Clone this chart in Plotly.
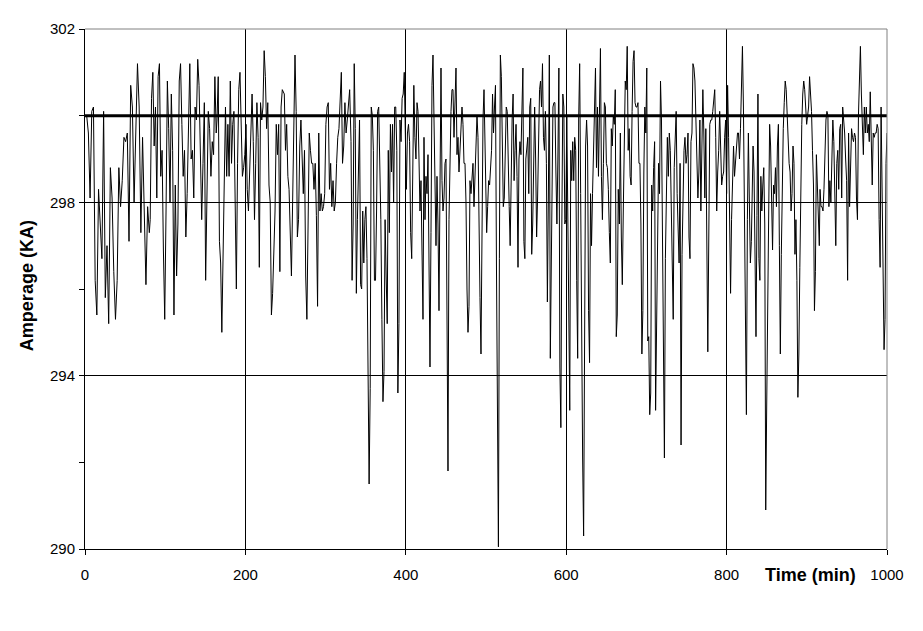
import numpy as np
import plotly.graph_objects as go

# Amperage readings (KA), grouped by consecutive time spans
seg_minutes = [
    (0.0, 80.2), (81.3, 163.6), (164.6, 246.0), (248.5, 330.0),
    (331.7, 414.0), (415.2, 497.5), (499.6, 580.2), (581.0, 664.9),
    (666.3, 748.1), (749.4, 832.1), (833.0, 915.6), (916.5, 1000.0),
]

seg01 = [300.0, 300.0, 299.6, 298.1, 300.1, 300.2, 296.2, 295.4, 298.3, 297.5, 296.7, 300.1, 295.8,
         297.0, 295.2, 298.8, 298.1, 296.4, 295.3, 296.2, 298.8, 297.9, 298.5, 299.5, 299.4, 299.6,
         297.1, 300.7, 300.2, 298.0, 300.0, 301.2, 300.2, 297.3, 299.5, 298.1, 296.1, 297.9, 297.3]
seg02 = [297.6, 300.4, 301.0, 299.3, 300.2, 298.1, 300.9, 301.2, 298.6, 299.2, 296.9, 295.3, 297.8,
         300.8, 299.7, 298.0, 300.5, 299.2, 295.4, 298.4, 296.3, 297.5, 300.8, 301.2, 299.8, 298.6,
         299.2, 297.2, 298.2, 300.2, 301.2, 299.0, 299.2, 298.1, 300.2, 299.9, 301.3, 300.7, 298.8,
         297.6, 298.9, 300.3, 296.2, 298.2, 300.1, 299.7, 298.6, 299.4, 299.1, 300.9, 299.6]
seg03 = [299.9, 300.9, 297.1, 296.6, 295.0, 296.6, 298.1, 300.2, 298.6, 299.8, 298.6, 300.8, 298.9,
         299.8, 300.1, 297.2, 296.0, 298.9, 300.6, 301.0, 299.4, 298.6, 298.8, 299.1, 299.8, 298.3,
         297.8, 298.9, 299.8, 300.5, 299.4, 297.6, 298.9, 300.3, 299.5, 296.5, 300.3, 299.9, 300.2,
         301.5, 300.9, 299.7, 300.3, 298.4, 298.0, 295.4, 295.9, 296.9, 297.8, 299.8, 299.1, 299.8,
         296.4, 300.2, 300.6]
seg04 = [300.5, 299.2, 299.8, 298.6, 298.3, 297.1, 296.3, 298.0, 300.1, 301.4, 300.1, 297.2, 297.6,
         299.3, 299.9, 299.2, 298.2, 299.2, 296.3, 295.3, 297.5, 299.6, 299.2, 298.9, 298.9, 298.3,
         298.9, 297.7, 295.6, 299.6, 297.8, 298.2, 297.8, 297.9, 298.2, 299.8, 300.2, 300.3, 298.3,
         298.9, 297.9, 298.5, 297.8, 298.0, 298.9, 299.5, 299.7, 300.5, 301.0, 298.9, 299.3, 300.3,
         299.6, 299.9, 300.2, 300.6]
seg05 = [299.4, 296.2, 297.5, 301.2, 299.7, 295.9, 297.6, 299.0, 299.9, 296.1, 296.0, 297.8, 296.6,
         297.6, 297.9, 296.7, 293.6, 291.5, 293.7, 300.2, 300.0, 299.2, 296.2, 296.2, 297.8, 300.1,
         300.2, 298.9, 297.6, 295.3, 293.4, 294.1, 297.6, 296.3, 295.2, 299.2, 297.3, 299.8, 298.7,
         299.8, 298.0, 300.2, 300.2, 299.2, 293.6, 295.2, 299.9, 299.4, 300.4, 300.5, 301.0, 299.6,
         298.3, 299.6, 299.8, 299.4, 297.3, 296.7, 299.1, 300.7, 299.5, 299.0, 300.3]
seg06 = [300.1, 299.0, 297.8, 298.5, 296.7, 295.3, 299.5, 297.6, 298.6, 298.2, 299.1, 295.5, 294.2,
         297.3, 300.7, 301.4, 300.0, 298.2, 297.0, 298.6, 297.5, 295.5, 299.6, 301.1, 298.5, 297.8,
         298.1, 298.9, 299.0, 295.7, 291.8, 297.6, 299.2, 300.1, 300.6, 300.6, 299.5, 300.3, 301.1,
         299.1, 299.5, 298.7, 299.2, 300.0, 300.2, 299.8, 298.9, 298.9, 298.0, 296.0, 295.0, 295.6,
         298.5, 298.2, 298.6, 298.9, 297.9, 298.7, 299.5, 300.0, 299.5, 297.2, 295.8, 294.5, 297.5,
         299.9, 300.6]
seg07 = [297.8, 297.3, 297.9, 298.5, 298.4, 298.9, 299.2, 300.5, 299.6, 300.2, 300.7, 296.6, 292.9,
         290.05, 296.7, 301.4, 300.9, 298.6, 297.9, 298.1, 299.4, 300.2, 300.1, 298.6, 297.9, 297.0,
         298.9, 299.9, 300.5, 298.5, 299.2, 299.8, 298.6, 296.5, 299.0, 299.4, 299.1, 300.5, 301.1,
         297.1, 296.7, 299.0, 299.2, 299.5, 298.2, 300.2, 300.4, 296.8, 297.5, 299.0, 300.2, 299.0,
         297.2, 298.1, 299.9, 300.6, 300.8, 300.2, 301.2, 299.5, 299.2, 300.1, 298.9, 295.7, 298.1,
         301.4, 294.4]
seg08 = [295.7, 298.6, 300.2, 300.3, 300.3, 298.7, 297.5, 299.0, 301.1, 294.2, 292.8, 297.5, 300.5,
         300.2, 297.5, 297.6, 300.0, 297.8, 295.8, 293.2, 299.2, 298.5, 299.4, 298.5, 299.5, 299.2,
         296.2, 294.4, 299.9, 301.2, 298.2, 294.1, 292.1, 290.3, 295.5, 299.3, 299.9, 299.3, 295.5,
         294.3, 298.2, 297.0, 298.2, 299.3, 300.6, 301.1, 298.8, 300.2, 298.6, 300.5, 301.55, 298.6,
         297.6, 298.9, 300.3, 300.2, 298.9, 298.8, 298.3, 297.3, 296.6, 299.7, 299.3, 300.0, 299.8,
         300.6, 294.9, 295.4, 298.3]
seg09 = [297.5, 299.6, 297.2, 296.1, 297.8, 298.9, 300.8, 300.6, 301.6, 299.2, 299.7, 298.6, 298.4,
         300.1, 301.25, 301.5, 300.3, 300.2, 300.2, 300.3, 298.9, 298.9, 297.5, 294.5, 295.5, 298.7,
         300.2, 299.6, 301.1, 294.8, 294.9, 293.1, 293.6, 298.4, 297.8, 298.8, 299.4, 293.2, 294.9,
         297.7, 298.9, 298.2, 300.8, 299.9, 296.6, 294.4, 292.1, 296.7, 298.8, 299.5, 298.6, 299.6,
         299.2, 298.1, 296.9, 295.3, 298.8, 299.4, 300.1, 298.2, 297.3, 296.6, 298.9, 292.4, 296.8,
         298.2, 299.2, 299.5]
seg10 = [298.9, 299.1, 299.6, 297.2, 296.7, 299.4, 299.6, 301.2, 301.1, 300.8, 299.6, 298.4, 298.1,
         298.7, 299.9, 297.8, 299.6, 300.6, 299.6, 298.1, 299.7, 295.9, 294.55, 297.2, 299.8, 299.9,
         299.9, 300.1, 300.3, 300.6, 299.5, 297.8, 298.7, 299.2, 300.1, 299.3, 298.4, 298.6, 298.7,
         299.5, 299.9, 298.2, 300.7, 299.5, 297.0, 295.9, 297.6, 298.8, 299.3, 298.6, 298.9, 299.1,
         299.6, 299.6, 299.0, 299.7, 300.9, 301.6, 300.2, 297.5, 294.5, 293.1, 297.6, 299.6, 298.0,
         296.6, 297.1, 298.0]
seg11 = [299.3, 298.7, 295.8, 294.9, 297.7, 300.5, 296.7, 296.2, 298.6, 297.8, 298.4, 298.8, 297.5,
         290.9, 293.3, 295.3, 297.4, 299.8, 299.3, 297.8, 296.9, 298.4, 298.2, 298.8, 297.9, 299.3,
         299.8, 297.0, 294.5, 296.8, 298.5, 299.7, 300.3, 300.8, 300.6, 299.9, 299.2, 298.9, 298.7,
         297.8, 298.2, 299.3, 298.9, 296.8, 297.6, 296.2, 293.5, 294.5, 296.5, 298.6, 299.8, 300.5,
         300.8, 300.6, 300.1, 299.8, 300.0, 300.2, 300.9, 300.5, 300.1, 299.2, 298.4, 295.5, 296.4,
         299.1, 298.2, 297.8, 297.0]
seg12 = [298.3, 297.9, 297.9, 297.8, 298.3, 299.2, 299.9, 300.1, 300.0, 297.9, 298.5, 298.0, 299.4,
         299.9, 299.4, 298.4, 297.0, 298.9, 299.2, 298.3, 299.7, 299.8, 298.1, 300.2, 299.9, 299.6,
         299.0, 298.5, 296.2, 299.6, 297.9, 298.7, 299.7, 299.5, 299.4, 299.6, 299.5, 298.1, 297.6,
         300.0, 300.7, 301.6, 300.5, 299.4, 299.1, 300.2, 299.6, 300.2, 299.6, 299.8, 299.4, 300.55,
         299.1, 298.4, 299.6, 299.5, 299.6, 299.6, 299.8, 299.7, 297.6, 296.5, 300.2, 298.4, 296.2,
         294.6, 295.3, 298.9, 299.6]

segments = [seg01, seg02, seg03, seg04, seg05, seg06, seg07, seg08, seg09, seg10, seg11, seg12]

setpoint = 300.0
x_ticks = [0, 200, 400, 600, 800, 1000]
y_ticks = [290, 294, 298, 302]
y_minor = [292, 296, 300]

minutes = np.concatenate([np.linspace(a, b, len(s)) for (a, b), s in zip(seg_minutes, segments)])
amps = np.concatenate([np.array(s, dtype=float) for s in segments])

FONT = "Liberation Sans, Arial, sans-serif"

fig = go.Figure()
fig.add_trace(go.Scatter(x=minutes, y=amps, mode="lines",
                         line=dict(color="black", width=1), hoverinfo="skip"))
fig.add_trace(go.Scatter(x=[x_ticks[0], x_ticks[-1]], y=[setpoint, setpoint], mode="lines",
                         line=dict(color="black", width=3), hoverinfo="skip"))

fig.update_layout(
    width=915, height=623,
    margin=dict(l=77, r=36, t=21, b=82),
    plot_bgcolor="white", paper_bgcolor="white",
    showlegend=False,
    font=dict(family=FONT, size=15, color="black"),
    xaxis=dict(range=[0, 1000], tickvals=x_ticks, ticktext=[str(v) for v in x_ticks],
               showgrid=True, gridcolor="black", gridwidth=1,
               showline=True, linecolor="black", linewidth=1,
               ticks="outside", ticklen=5, tickcolor="black",
               ticklabelstandoff=7, zeroline=False),
    yaxis=dict(range=[290, 302], tickvals=y_ticks, ticktext=[str(v) for v in y_ticks],
               showgrid=True, gridcolor="black", gridwidth=1,
               showline=True, linecolor="black", linewidth=1,
               ticks="outside", ticklen=5, tickcolor="black",
               ticklabelstandoff=1,
               minor=dict(tickvals=y_minor, ticks="outside", ticklen=5,
                          tickcolor="black", showgrid=False),
               zeroline=False),
    shapes=[
        dict(type="line", xref="paper", yref="paper", x0=0, x1=1, y0=1, y1=1,
             line=dict(color="#808080", width=1), layer="above"),
        dict(type="line", xref="paper", yref="paper", x0=1, x1=1, y0=0, y1=1,
             line=dict(color="#808080", width=1), layer="above"),
    ],
    annotations=[
        dict(text="<b>Time (min)</b>", xref="paper", yref="paper", x=0.964, y=-0.05,
             xanchor="right", yanchor="middle", showarrow=False,
             font=dict(size=18, family=FONT)),
        dict(text="<b>Amperage (KA)</b>", xref="paper", yref="paper", x=-0.072, y=0.506,
             xanchor="center", yanchor="middle", textangle=-90, showarrow=False,
             font=dict(size=18, family=FONT)),
    ],
)

fig.write_html("out.html")
